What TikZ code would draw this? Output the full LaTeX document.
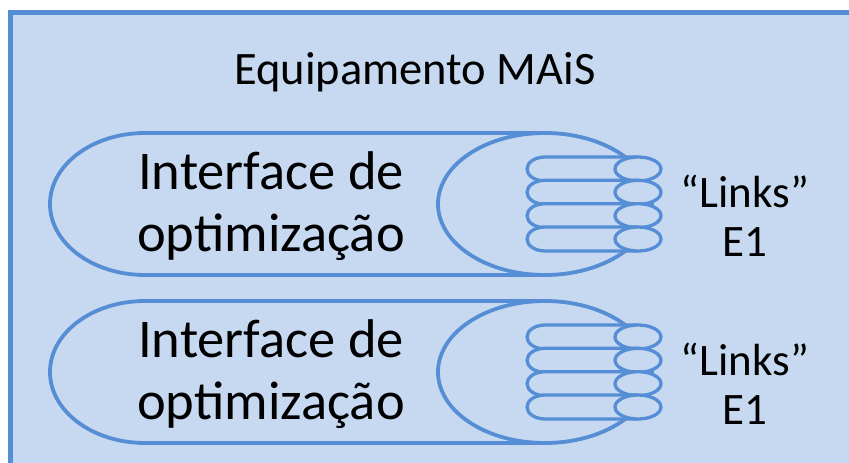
\documentclass[tikz,border=0pt]{standalone}
\usepackage{fontspec}
\setmainfont{Carlito}
\definecolor{bgfill}{HTML}{C6D9F1}
\definecolor{bline}{HTML}{558ED5}
\begin{document}
\begin{tikzpicture}[x=1pt,y=1pt,
  outline/.style={draw=bline,line width=3.8pt},
  cableline/.style={draw=bline,line width=3.3pt},
  bigtext/.style={align=center,inner sep=0pt,font=\fontsize{54.5}{62}\selectfont},
  linktext/.style={align=center,inner sep=0pt,font=\fontsize{45}{49}\selectfont},
  titletext/.style={inner sep=0pt,anchor=base,font=\fontsize{46.5}{50}\selectfont}]
\useasboundingbox (0,0) rectangle (849,463);
\clip (0,0) rectangle (849,463);
\draw[draw=bline,fill=bgfill,line width=5pt] (10,-20) rectangle (880,450);
\node[titletext] (title) at (415,378) {Equipamento MAiS};
\foreach \cy/\nm in {259/a,91/b}{
  % big cylinder body
  \fill[bgfill] (545,\cy+71) -- (145,\cy+71) arc[start angle=90,end angle=270,x radius=95,y radius=71] -- (545,\cy-71) -- cycle;
  \draw[outline] (545,\cy+71) -- (145,\cy+71) arc[start angle=90,end angle=270,x radius=95,y radius=71] -- (545,\cy-71);
  \draw[outline,fill=bgfill] (545,\cy) ellipse[x radius=107,y radius=71];
  % cables
  \foreach \d in {35,11.7,-11.7,-35}{
    \fill[bgfill] (638,\cy+\d+12) -- (545,\cy+\d+12) arc[start angle=90,end angle=270,x radius=18,y radius=12] -- (638,\cy+\d-12) -- cycle;
    \draw[cableline] (638,\cy+\d+12) -- (545,\cy+\d+12) arc[start angle=90,end angle=270,x radius=18,y radius=12] -- (638,\cy+\d-12);
    \draw[cableline,fill=bgfill] (638,\cy+\d) ellipse[x radius=23,y radius=12];
  }
  \node[bigtext] (iface\nm) at (271,\cy-2) {Interface de\\optimização};
  \node[linktext] (links\nm) at (745,\cy-12) {“Links”\\E1};
}
\end{tikzpicture}
\end{document}
